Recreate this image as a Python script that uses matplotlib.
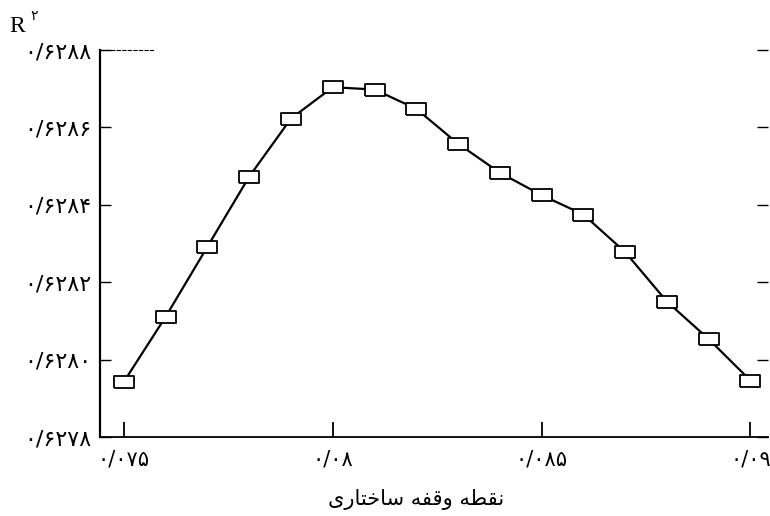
import matplotlib
matplotlib.use("Agg")
import matplotlib.pyplot as plt
import numpy as np

# ---- data ----
break_points = [0.075, 0.076, 0.077, 0.078, 0.079, 0.080, 0.081, 0.082,
                0.083, 0.084, 0.085, 0.086, 0.087, 0.088, 0.089, 0.090]
r2_values = [0.627943, 0.628111, 0.628292, 0.628473, 0.628623, 0.628704,
             0.628698, 0.628648, 0.628558, 0.628483, 0.628425, 0.628375,
             0.628278, 0.628150, 0.628053, 0.627946]

y_ticks = [0.6278, 0.6280, 0.6282, 0.6284, 0.6286, 0.6288]
y_tick_labels = ["۰/۶۲۷۸", "۰/۶۲۸۰", "۰/۶۲۸۲", "۰/۶۲۸۴", "۰/۶۲۸۶", "۰/۶۲۸۸"]
x_ticks = [0.075, 0.080, 0.085, 0.090]
x_tick_labels = ["۰/۰۷۵", "۰/۰۸", "۰/۰۸۵", "۰/۰۹"]

# x label "نقطه وقفه ساختاری" in visual order with shaped (presentation) forms
x_label = "\uFEEF\uFEAD\uFE8E\uFE98\uFEA7\uFE8E\uFEB3 \uFEEA\uFED4\uFED7\uFEED \uFEEA\uFEC4\uFED8\uFEE7"
y_label_main = "R"
y_label_sup = "۲"

plt.rcParams['font.family'] = ['DejaVu Sans']

fig = plt.figure(figsize=(7.7, 5.16), dpi=100)
ax = fig.add_axes([0.130, 0.153, 0.868, 0.750])

rect = [(-1, -0.62), (1, -0.62), (1, 0.62), (-1, 0.62), (-1, -0.62)]
ax.plot(break_points, r2_values, color='black', lw=1.6, zorder=2,
        marker=rect, markersize=14, markerfacecolor='white',
        markeredgecolor='black', markeredgewidth=1.3)

ax.set_xlim(0.07443, 0.09043)
ax.set_ylim(0.6278, 0.6288)

ax.set_yticks(y_ticks)
ax.set_yticklabels(y_tick_labels, fontsize=16)
ax.set_xticks(x_ticks)
ax.set_xticklabels(x_tick_labels, fontsize=15)

ax.tick_params(axis='y', direction='in', length=8, width=1.0, left=True, right=True, pad=6)
ax.tick_params(axis='x', direction='in', length=11, width=1.3, pad=9)

ax.spines['right'].set_visible(False)
ax.spines['top'].set_linestyle((0, (3, 2)))
ax.spines['top'].set_linewidth(0.8)
ax.spines['top'].set_bounds(0.07443, 0.0757)
ax.spines['left'].set_linewidth(1.6)
ax.spines['bottom'].set_linewidth(1.3)

ax.set_xlabel(x_label, fontsize=15)
ax.xaxis.set_label_coords(0.473, -0.135)

fig.text(0.012, 0.938, y_label_main, fontsize=17, family='Liberation Serif', ha='left', va='baseline')
fig.text(0.040, 0.962, y_label_sup, fontsize=10, ha='left', va='baseline')

fig.savefig("out.png", dpi=100)
